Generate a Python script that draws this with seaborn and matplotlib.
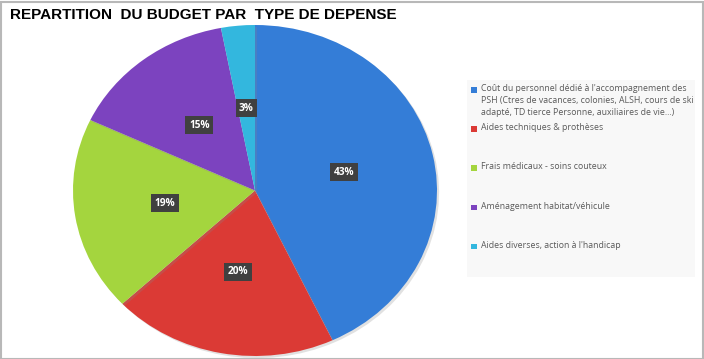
import matplotlib
matplotlib.use("Agg")
import matplotlib.pyplot as plt
import matplotlib.patheffects as pe
from matplotlib.patches import Rectangle
import seaborn as sns

title = "REPARTITION  DU BUDGET PAR  TYPE DE DEPENSE"
labels = [
    "Coût du personnel dédié à l'accompagnement des\nPSH (Ctres de vacances, colonies, ALSH, cours de ski\nadapté, TD tierce Personne, auxiliaires de vie…)",
    "Aides techniques & prothèses",
    "Frais médicaux - soins couteux",
    "Aménagement habitat/véhicule",
    "Aides diverses, action à l'handicap",
]
shares = [43, 20, 19, 15, 3]
colors = ["#347dd7", "#db3a35", "#a4d53e", "#7c43bf", "#33b7de"]

sns.set_theme(style="white")
plt.rcParams["font.family"] = ["Open Sans", "DejaVu Sans"]

W, H = 704, 359
fig = plt.figure(figsize=(W / 100, H / 100), dpi=100)
fig.patch.set_facecolor("white")

# pie area (slightly stretched like the original)
ax = fig.add_axes([73 / W, 3 / H, 364 / W, 331 / H])
wedges, _, autotexts = ax.pie(
    shares, colors=colors, startangle=90, counterclock=False,
    autopct=lambda p: f"{p:.0f}%", pctdistance=0.5,
    wedgeprops=dict(linewidth=0,
                    path_effects=[pe.SimplePatchShadow(offset=(1.5, -1.5), shadow_rgbFace="#888888", alpha=0.25),
                                  pe.Normal()]),
    textprops=dict(color="white", fontsize=7.3, fontweight="bold"),
)
ax.set_aspect("auto")
ax.set_xlim(-1, 1)
ax.set_ylim(-1, 1)
for t in autotexts:
    t.set_bbox(dict(boxstyle="square,pad=0.35", fc="#404040", ec="none"))

# title
fig.text(10 / W, 1 - 15 / H, title, fontsize=11, fontweight="bold",
         family="Liberation Sans", color="black", va="center", ha="left")

# legend box
fig.add_artist(Rectangle((467 / W, 1 - 277 / H), 228 / W, 197 / H,
                         transform=fig.transFigure, fc="#f8f8f8", ec="none"))
for i, (lab, col) in enumerate(zip(labels, colors)):
    ytop = 84 + i * 39.2
    fig.add_artist(Rectangle((471 / W, 1 - (ytop + 8.5) / H), 5.5 / W, 5.5 / H,
                             transform=fig.transFigure, fc=col, ec="none"))
    fig.text(481 / W, 1 - ytop / H, lab, fontsize=6.3, color="#595959",
             va="top", ha="left", linespacing=1.45)

# outer border
fig.add_artist(Rectangle((0.5 / W, 0.5 / H), (W - 2) / W, (H - 2) / H,
                         transform=fig.transFigure, fc="none", ec="#b8b8b8", lw=1.5))

fig.savefig("out.png", dpi=100)
